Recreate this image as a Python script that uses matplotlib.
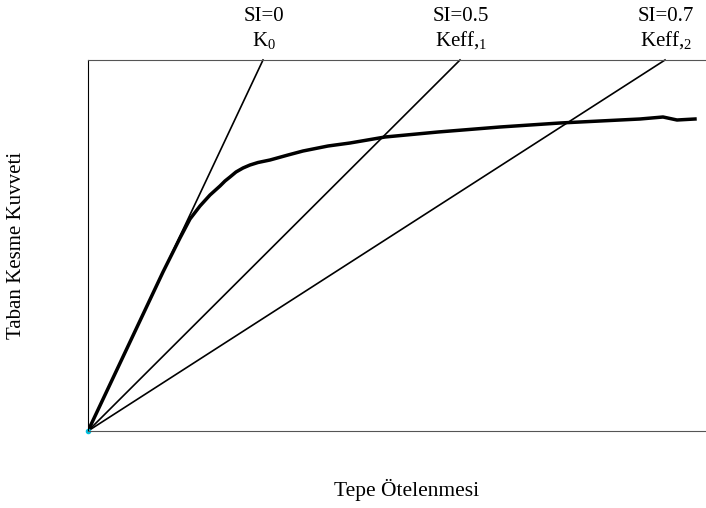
import matplotlib.pyplot as plt

plt.rcParams['font.family'] = ['Liberation Serif', 'DejaVu Serif']
plt.rcParams['mathtext.fontset'] = 'custom'
plt.rcParams['mathtext.rm'] = 'Liberation Serif'

# capacity curve (top displacement vs base shear), arbitrary units
disp = [0, 25, 50, 75, 92, 102, 112, 122, 132, 137, 142, 148, 155, 162, 170,
        182, 200, 215, 240, 262, 297, 350, 412, 472, 552, 575, 589, 607]
shear = [0, 53, 106, 159, 193, 212, 225, 236, 245, 250, 254, 259, 263, 266, 268.5,
         271, 276, 280, 285, 288, 294, 299, 304, 308, 312, 314, 311, 312]

# secant stiffness lines: x reached at top of plot
line_names = ['SI=0\nK$_0$', 'SI=0.5\nKeff,$_1$', 'SI=0.7\nKeff,$_2$']
line_top_x = [175, 372, 577]

xmax, ymax = 618, 371

fig = plt.figure(figsize=(7.06, 5.08), dpi=100)
ax = fig.add_axes([88 / 706, 77 / 508, 618 / 706, 371 / 508])
ax.set_xlim(0, xmax)
ax.set_ylim(0, ymax)

for name, tx in zip(line_names, line_top_x):
    ax.plot([0, tx], [0, ymax], color='black', lw=1.2, clip_on=False)
    ax.text(tx + 1, ymax + 8, name, ha='center', va='bottom', fontsize=15,
            linespacing=1.25)

ax.plot(disp, shear, color='black', lw=2.5)
ax.plot([0], [0], marker='o', color='#00c0e0', markersize=3, clip_on=False)

ax.set_xticks([])
ax.set_yticks([])
ax.spines['right'].set_visible(False)
for s in ['top', 'bottom']:
    ax.spines[s].set_color('#555555')
ax.spines['left'].set_color('black')

fig.text(407 / 706, 1 - 490 / 508, 'Tepe Ötelenmesi', fontsize=15.5,
         ha='center', va='center')
fig.text(17 / 706, 1 - 245 / 508, 'Taban Kesme Kuvveti', fontsize=15,
         ha='center', va='center', rotation=90)

plt.savefig('out.png', dpi=100)
